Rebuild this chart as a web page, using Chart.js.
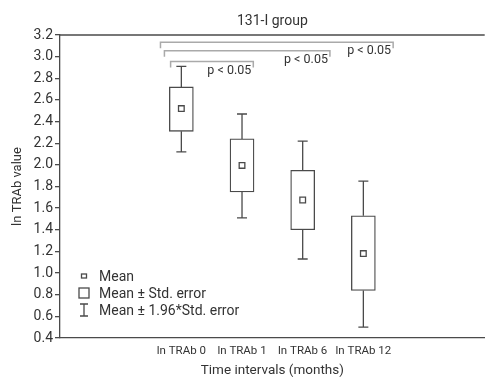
<!DOCTYPE html>
<html>
<head>
<meta charset="utf-8">
<script src="https://cdn.jsdelivr.net/npm/chart.js@4"></script>
<style>
  html, body { margin: 0; padding: 0; background: #fff; }
</style>
</head>
<body>
<canvas id="chart" width="490" height="379"></canvas>
<script>
    const categories = ['ln TRAb 0', 'ln TRAb 1', 'ln TRAb 6', 'ln TRAb 12'];
    const means = [2.52, 1.995, 1.675, 1.18];
    const seLow = [2.31, 1.75, 1.40, 0.84];
    const seHigh = [2.72, 2.24, 1.95, 1.53];
    const ciLow = [2.12, 1.51, 1.13, 0.50];
    const ciHigh = [2.91, 2.47, 2.22, 1.85];
    const yTicks = [0.4, 0.6, 0.8, 1.0, 1.2, 1.4, 1.6, 1.8, 2.0, 2.2, 2.4, 2.6, 2.8, 3.0, 3.2];

    // significance brackets (x in category units, y in ln TRAb)
    const bracketLevel = [3.133, 3.055, 2.954];
    const bracketFrom = [-0.344, -0.279, -0.177];
    const bracketTo = [3.491, 2.449, 1.186];
    const bracketText = ['p < 0.05', 'p < 0.05', 'p < 0.05'];

    const legendLabels = ['Mean', 'Mean \u00b1 Std. error', 'Mean \u00b1 1.96*Std. error'];

    const FONT = 'Roboto, "Liberation Sans", sans-serif';
    const INK = '#4a4a4a';
    Chart.defaults.font.family = FONT;
    Chart.defaults.color = '#333';

    const whiskers = {
      id: 'whiskers',
      beforeDatasetsDraw(chart) {
        const { ctx, scales: { x, y } } = chart;
        ctx.save();
        ctx.strokeStyle = INK;
        ctx.lineWidth = 1.3;
        categories.forEach((c, i) => {
          const px = x.getPixelForValue(i);
          [[seHigh[i], ciHigh[i]], [seLow[i], ciLow[i]]].forEach(([a, b]) => {
            const ya = y.getPixelForValue(a), yb = y.getPixelForValue(b);
            ctx.beginPath();
            ctx.moveTo(px, ya);
            ctx.lineTo(px, yb);
            ctx.moveTo(px - 5, yb);
            ctx.lineTo(px + 5, yb);
            ctx.stroke();
          });
        });
        ctx.restore();
      }
    };

    const extras = {
      id: 'extras',
      afterDraw(chart) {
        const { ctx, chartArea, scales: { x, y } } = chart;
        ctx.save();
        // top frame line
        ctx.strokeStyle = INK;
        ctx.lineWidth = 1.3;
        ctx.beginPath();
        ctx.moveTo(chartArea.left, chartArea.top);
        ctx.lineTo(chartArea.right, chartArea.top);
        ctx.stroke();

        // brackets
        ctx.strokeStyle = '#aaa';
        ctx.lineWidth = 1.5;
        ctx.fillStyle = '#333';
        ctx.font = '12.5px ' + FONT;
        ctx.textAlign = 'right';
        ctx.textBaseline = 'alphabetic';
        bracketLevel.forEach((lv, i) => {
          const yy = y.getPixelForValue(lv);
          const x0 = x.getPixelForValue(bracketFrom[i]);
          const x1 = x.getPixelForValue(bracketTo[i]);
          ctx.beginPath();
          ctx.moveTo(x0, yy + 6);
          ctx.lineTo(x0, yy);
          ctx.lineTo(x1, yy);
          ctx.lineTo(x1, yy + 6);
          ctx.stroke();
          ctx.fillText(bracketText[i], x1 - 2, yy + 12);
        });

        // legend
        const lx = chartArea.left + 24;
        const rows = [276, 293, 310];
        ctx.strokeStyle = INK;
        ctx.lineWidth = 1.3;
        ctx.strokeRect(lx - 2.5, rows[0] - 2, 5, 4);
        ctx.strokeRect(lx - 5, rows[1] - 5, 10, 10);
        ctx.beginPath();
        ctx.moveTo(lx - 4, rows[2] - 6); ctx.lineTo(lx + 4, rows[2] - 6);
        ctx.moveTo(lx, rows[2] - 6); ctx.lineTo(lx, rows[2] + 6);
        ctx.moveTo(lx - 4, rows[2] + 6); ctx.lineTo(lx + 4, rows[2] + 6);
        ctx.stroke();
        ctx.fillStyle = '#333';
        ctx.font = '14px ' + FONT;
        ctx.textAlign = 'left';
        ctx.textBaseline = 'middle';
        legendLabels.forEach((t, i) => ctx.fillText(t, lx + 15, rows[i] + 1));
        ctx.restore();
      }
    };

    new Chart(document.getElementById('chart'), {
      type: 'bar',
      data: {
        datasets: [
          {
            type: 'bar',
            data: categories.map((c, i) => ({ x: i, y: [seLow[i], seHigh[i]] })),
            backgroundColor: '#fff',
            borderColor: INK,
            borderWidth: 1.3,
            borderSkipped: false,
            barThickness: 24,
            order: 2
          },
          {
            type: 'scatter',
            data: categories.map((c, i) => ({ x: i, y: means[i] })),
            pointStyle: 'rect',
            pointRadius: 4,
            backgroundColor: '#fff',
            borderColor: INK,
            borderWidth: 1.3,
            order: 1
          }
        ]
      },
      options: {
        responsive: false,
        animation: false,
        devicePixelRatio: 1,
        layout: { padding: 0 },
        plugins: {
          legend: { display: false },
          tooltip: { enabled: false },
          title: {
            display: true,
            fullSize: false,
            text: '131-I group',
            font: { size: 14, weight: 'normal' },
            color: '#333',
            padding: { top: 13, bottom: 5.2 }
          }
        },
        scales: {
          x: {
            type: 'linear',
            min: -2,
            max: 5,
            offset: false,
            grid: { display: false, drawTicks: false },
            border: { display: true, color: INK, width: 1.3 },
            afterBuildTicks: s => { s.ticks = categories.map((c, i) => ({ value: i })); },
            ticks: {
              autoSkip: false,
              maxRotation: 0,
              padding: 6,
              font: { size: 11.5 },
              color: '#333',
              callback: (v) => categories[v] ?? ''
            },
            title: {
              display: true,
              text: 'Time intervals (months)',
              font: { size: 13.5 },
              color: '#333',
              padding: { top: 0, bottom: 0 }
            },
            afterFit: s => { s.height = 41; }
          },
          y: {
            type: 'linear',
            min: 0.4,
            max: 3.2,
            grid: { drawOnChartArea: false, drawTicks: true, tickLength: 5, color: INK, lineWidth: 1.3 },
            border: { display: true, color: INK, width: 1.3 },
            afterBuildTicks: s => { s.ticks = yTicks.map(v => ({ value: v })); },
            ticks: {
              padding: 2,
              font: { size: 14 },
              color: '#333',
              callback: v => v.toFixed(1)
            },
            title: {
              display: true,
              text: 'ln TRAb value',
              font: { size: 13 },
              color: '#333',
              padding: { top: 10, bottom: 0 }
            },
            afterFit: s => { s.width = 60; }
          }
        }
      },
      plugins: [whiskers, extras]
    });
</script>
</body>
</html>
